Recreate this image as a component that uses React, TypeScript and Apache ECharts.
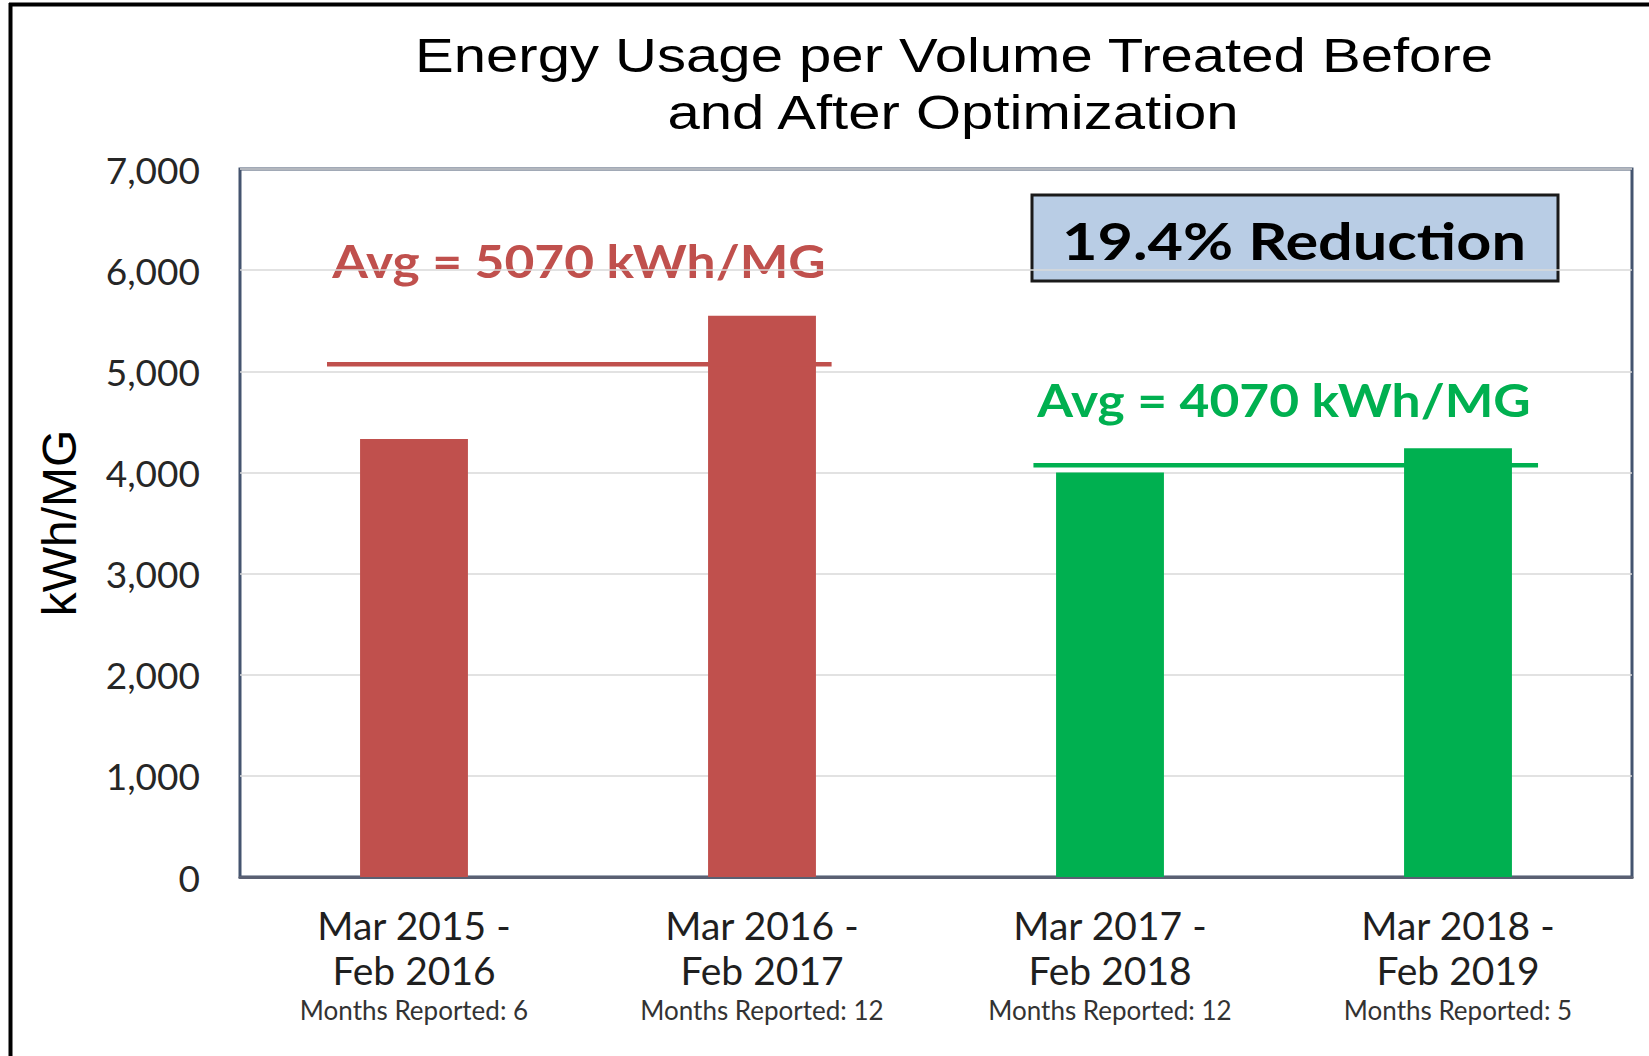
import React, { useEffect, useRef } from "react";
import * as echarts from "echarts";

const categories = ["Mar 2015 -\nFeb 2016", "Mar 2016 -\nFeb 2017", "Mar 2017 -\nFeb 2018", "Mar 2018 -\nFeb 2019"];
const monthsReported = [6, 12, 12, 5];
const barValues = [4330, 5550, 4000, 4240];
const barColors = ["#c0504d", "#c0504d", "#00b050", "#00b050"];
const beforeAvg = 5070;
const afterAvg = 4070;
const beforeSpan = [0.25, 1.7];
const afterSpan = [2.28, 3.73];
const yTicks = [0, 1000, 2000, 3000, 4000, 5000, 6000, 7000];
const titleLines = ["Energy Usage per Volume Treated Before", "and After Optimization"];
const reductionText = "19.4% Reduction";

export default function App() {
  const ref = useRef<HTMLDivElement>(null);
  useEffect(() => {
    if (!ref.current) return;
    const chart = echarts.init(ref.current, null, { renderer: "svg" });
    const calibri = "Lato, 'Open Sans', sans-serif";
    const arial = "'Liberation Sans', Arial, sans-serif";
    chart.setOption({
      animation: false,
      backgroundColor: "#ffffff",
      grid: {
        left: 240,
        top: 169,
        right: 17,
        bottom: 179,
        show: true,
        borderColor: "#44546f",
        borderWidth: 3,
        backgroundColor: "transparent",
      },
      xAxis: [
        {
          type: "category",
          data: categories,
          axisLine: { show: true, lineStyle: { color: "#5a6072", width: 3 } },
          axisTick: { show: false },
          axisLabel: {
            margin: 25,
            interval: 0,
            formatter: (value: string, index: number) => {
              const parts = value.split("\n");
              return `{a|${parts[0]}}\n{a|${parts[1]}}\n{b|Months Reported: ${monthsReported[index]}}`;
            },
            rich: {
              a: { fontFamily: calibri, fontSize: 39, lineHeight: 45, color: "#1f1f1f" },
              b: { fontFamily: calibri, fontSize: 26, lineHeight: 35, color: "#333333" },
            },
          },
        },
        {
          type: "value",
          min: 0,
          max: 4,
          show: false,
        },
      ],
      yAxis: {
        type: "value",
        min: yTicks[0],
        max: yTicks[yTicks.length - 1],
        interval: 1000,
        name: "kWh/MG",
        nameLocation: "middle",
        nameRotate: 90,
        nameGap: 157,
        nameTextStyle: { fontFamily: arial, fontSize: 48, color: "#000000" },
        axisLine: { show: false },
        axisTick: { show: false },
        axisLabel: {
          margin: 40,
          fontFamily: calibri,
          fontSize: 37,
          color: "#262626",
          formatter: (v: number) => v.toLocaleString("en-US"),
        },
        splitLine: { show: true, lineStyle: { color: "#d9d9d9", width: 1.5 } },
      },
      series: [
        {
          type: "bar",
          xAxisIndex: 0,
          barWidth: "31%",
          data: barValues.map((v, i) => ({ value: v, itemStyle: { color: barColors[i] } })),
          z: 2,
        },
        {
          type: "line",
          xAxisIndex: 1,
          symbol: "none",
          data: beforeSpan.map((x) => [x, beforeAvg]),
          lineStyle: { color: "#c0504d", width: 4.5 },
          z: 3,
        },
        {
          type: "line",
          xAxisIndex: 1,
          symbol: "none",
          data: afterSpan.map((x) => [x, afterAvg]),
          lineStyle: { color: "#00b050", width: 4.5 },
          z: 3,
        },
      ],
      graphic: [
        { type: "line", shape: { x1: 9, y1: 4.5, x2: 1649, y2: 4.5 }, style: { stroke: "#000", lineWidth: 4 } },
        { type: "line", shape: { x1: 10.5, y1: 3, x2: 10.5, y2: 1056 }, style: { stroke: "#000", lineWidth: 4 } },
        {
          type: "text",
          x: 954,
          y: 55,
          scaleX: 1.185,
          style: { text: titleLines[0], fontFamily: arial, fontSize: 49, fill: "#000", align: "center", verticalAlign: "middle" },
        },
        {
          type: "text",
          x: 953,
          y: 112,
          scaleX: 1.185,
          style: { text: titleLines[1], fontFamily: arial, fontSize: 49, fill: "#000", align: "center", verticalAlign: "middle" },
        },
        {
          type: "text",
          x: 579,
          y: 260,
          scaleX: 1.12,
          style: {
            text: `Avg = ${beforeAvg} kWh/MG`,
            fontFamily: calibri,
            fontWeight: "bold",
            fontSize: 46,
            fill: "#c0504d",
            align: "center",
            verticalAlign: "middle",
          },
        },
        {
          type: "text",
          x: 1284,
          y: 399,
          scaleX: 1.12,
          style: {
            text: `Avg = ${afterAvg} kWh/MG`,
            fontFamily: calibri,
            fontWeight: "bold",
            fontSize: 46,
            fill: "#00b050",
            align: "center",
            verticalAlign: "middle",
          },
        },
        {
          type: "rect",
          shape: { x: 1032, y: 195, width: 526, height: 86 },
          style: { fill: "#b9cde5", stroke: "#1a1a1a", lineWidth: 3 },
        },
        {
          type: "text",
          x: 1294,
          y: 240,
          scaleX: 1.2,
          style: {
            text: reductionText,
            fontFamily: calibri,
            fontWeight: "bold",
            fontSize: 51,
            fill: "#000",
            align: "center",
            verticalAlign: "middle",
          },
        },
      ],
    });
    return () => chart.dispose();
  }, []);
  return (
    <div
      ref={ref}
      style={{ position: "absolute", left: 0, top: 0, width: 1649, height: 1056, background: "#fff" }}
    />
  );
}
